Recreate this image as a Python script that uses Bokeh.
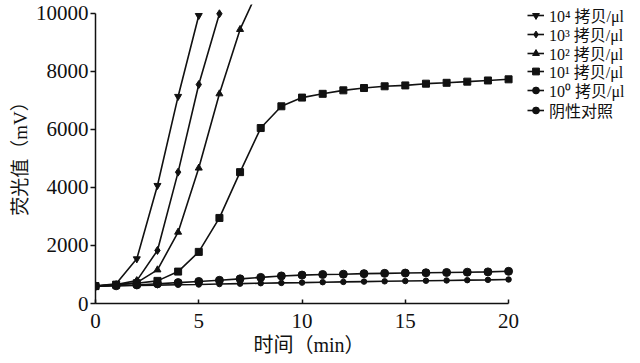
from bokeh.plotting import figure
from bokeh.models import Range1d, Legend, LegendItem, FixedTicker, Title
from bokeh.embed import file_html
from bokeh.resources import INLINE

t_1e4 = [0, 1, 2, 3, 4, 5]
v_1e4 = [600, 680, 1540, 4070, 7140, 9930]
t_1e3 = [0, 1, 2, 3, 4, 5, 6]
v_1e3 = [600, 650, 790, 1830, 4530, 7550, 9990]
t_1e2 = [0, 1, 2, 3, 4, 5, 6, 7, 8]
v_1e2 = [600, 640, 720, 1160, 2460, 4670, 7230, 9450, 11000]
t_full = list(range(21))
v_1e1 = [600, 650, 700, 780, 1100, 1780, 2950, 4530, 6050, 6800, 7100,
         7230, 7350, 7430, 7490, 7520, 7580, 7610, 7650, 7690, 7730]
v_1e0 = [600, 610, 640, 680, 720, 760, 800, 850, 900, 950, 980,
         1000, 1010, 1030, 1040, 1050, 1060, 1070, 1080, 1090, 1110]
v_neg = [600, 610, 620, 635, 645, 655, 670, 685, 700, 710, 720,
         735, 745, 755, 765, 775, 785, 795, 805, 815, 828]

labels = ["10\u2074 拷贝/μl", "10\u00b3 拷贝/μl", "10\u00b2 拷贝/μl",
          "10\u00b9 拷贝/μl", "10\u2070 拷贝/μl", "阴性对照"]
x_ticks = [0, 5, 10, 15, 20]
y_ticks = [0, 2000, 4000, 6000, 8000, 10000]

SERIF = "'Liberation Serif', 'Times New Roman', 'Noto Sans CJK SC', serif"
INK = "#111111"

p = figure(x_range=Range1d(0, 26.0), y_range=Range1d(0, 10310),
           frame_width=537, frame_height=299,
           min_border_left=95, min_border_right=0,
           min_border_top=4, min_border_bottom=50,
           output_backend="svg", toolbar_location=None)
p.outline_line_color = None
p.grid.visible = False
p.background_fill_color = "white"

for ax in (p.xaxis[0], p.yaxis[0]):
    ax.axis_line_color = INK
    ax.axis_line_width = 1.5
    ax.major_tick_line_color = INK
    ax.major_tick_line_width = 1.5
    ax.minor_tick_line_color = None
    ax.major_label_text_font = SERIF
    ax.major_label_text_font_size = "21px"
    ax.major_label_text_color = INK
    ax.axis_label_text_font = SERIF
    ax.axis_label_text_font_size = "19px"
    ax.axis_label_text_font_style = "normal"
    ax.axis_label_text_color = INK

p.xaxis.bounds = (0, 20)
p.yaxis.bounds = (0, 10000)
p.xaxis.ticker = FixedTicker(ticks=x_ticks)
p.yaxis.ticker = FixedTicker(ticks=y_ticks)
p.xaxis.major_tick_in = 4
p.xaxis.major_tick_out = 0
p.yaxis.major_tick_in = 0
p.yaxis.major_tick_out = 5
p.xaxis.major_label_standoff = 10
p.yaxis.major_label_standoff = 2
p.yaxis.axis_label = "荧光值（mV）"
p.yaxis.axis_label_standoff = 2

xlabel = Title(text="时间（min）", align="left", offset=158, standoff=3,
               text_font=SERIF, text_font_size="20px",
               text_font_style="normal", text_color=INK)
p.add_layout(xlabel, "below")

series = [
    (t_1e4, v_1e4, "inverted_triangle", 7),
    (t_1e3, v_1e3, "diamond", 8),
    (t_1e2, v_1e2, "triangle", 7),
    (t_full, v_1e1, "square", 7),
    (t_full, v_1e0, "circle", 8),
    (t_full, v_neg, "circle", 5.5),
]

legend_y = [276, 257, 238, 220, 201, 181]

for (xs, ys, mk, sz), lab, ly in zip(series, labels, legend_y):
    r1 = p.line(xs, ys, line_color=INK, line_width=1.6)
    r2 = p.scatter(xs, ys, marker=mk, size=sz, fill_color=INK, line_color=INK)
    lg = Legend(items=[LegendItem(label=lab, renderers=[r1, r2])],
                location=(432, ly),
                label_text_font=SERIF, label_text_font_size="16px",
                label_text_color=INK, label_height=18, glyph_height=18,
                glyph_width=17, label_standoff=5, spacing=0, padding=0,
                margin=0, border_line_color=None, background_fill_alpha=0)
    p.add_layout(lg, "center")

open("out.html", "w").write(file_html(p, INLINE))
